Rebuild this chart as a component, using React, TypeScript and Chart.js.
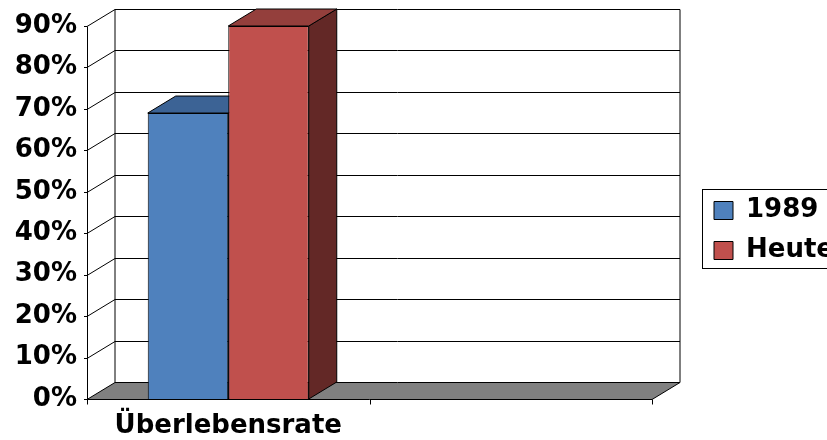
import React, { useEffect, useRef } from 'react';
import { Chart, registerables } from 'chart.js';

Chart.register(...registerables);

// ---- data ----
const categories = ['Überlebensrate', ''];
const seriesNames = ['1989', 'Heute'];
const values1989 = [0.69, null];
const valuesHeute = [0.9, null];
const yMin = 0;
const yMax = 0.9;
const yStep = 0.1;

// ---- styles ----
const frontColors = ['#4F81BD', '#C0504D'];
const topColors = ['#3C6395', '#943F3C'];
const sideColors = ['#2E4A70', '#632826'];
const floorColor = '#808080';
const lineColor = '#000000';
const DX = 28;
const DY = -17;
const FONT = '"DejaVu Sans", Arial, sans-serif';

const threeDPlugin = {
  id: 'threeD',
  beforeDatasetsDraw(chart: any) {
    const { ctx, chartArea } = chart;
    const { left, right } = chartArea;
    const y = chart.scales.y;
    const x = chart.scales.x;
    ctx.save();
    ctx.lineWidth = 1;
    ctx.strokeStyle = lineColor;

    // gridlines on back wall + left wall
    y.ticks.forEach((t: any) => {
      const yf = Math.round(y.getPixelForValue(t.value)) + 0.5;
      if (t.value === yMin) return;
      ctx.beginPath();
      ctx.moveTo(left, yf);
      ctx.lineTo(left + DX, yf + DY);
      ctx.lineTo(right + DX, yf + DY);
      ctx.stroke();
    });

    // back wall left edge and right edge
    const yTopF = Math.round(y.getPixelForValue(yMax)) + 0.5;
    const yBotF = Math.round(y.getPixelForValue(yMin)) + 0.5;
    ctx.beginPath();
    ctx.moveTo(left + DX, yTopF + DY);
    ctx.lineTo(left + DX, yBotF + DY);
    ctx.moveTo(right + DX, yTopF + DY);
    ctx.lineTo(right + DX, yBotF + DY);
    ctx.stroke();

    // floor
    ctx.beginPath();
    ctx.moveTo(left, yBotF);
    ctx.lineTo(right, yBotF);
    ctx.lineTo(right + DX, yBotF + DY);
    ctx.lineTo(left + DX, yBotF + DY);
    ctx.closePath();
    ctx.fillStyle = floorColor;
    ctx.fill();
    ctx.stroke();

    // front value axis and its tick marks
    ctx.beginPath();
    ctx.moveTo(Math.round(left) + 0.5, yTopF);
    ctx.lineTo(Math.round(left) + 0.5, yBotF);
    y.ticks.forEach((t: any) => {
      const yf = Math.round(y.getPixelForValue(t.value)) + 0.5;
      ctx.moveTo(left - 3, yf);
      ctx.lineTo(left, yf);
    });
    // category tick marks at category boundaries
    const half = (x.getPixelForValue(1) - x.getPixelForValue(0)) / 2;
    for (let i = 0; i <= categories.length; i++) {
      const px = Math.round(x.getPixelForValue(0) - half + i * 2 * half) + 0.5;
      ctx.moveTo(px, yBotF);
      ctx.lineTo(px, yBotF + 5);
    }
    ctx.stroke();

    // bar tops and sides
    chart.data.datasets.forEach((ds: any, d: number) => {
      const meta = chart.getDatasetMeta(d);
      meta.data.forEach((el: any, i: number) => {
        if (ds.data[i] == null) return;
        const l = el.x - el.width / 2;
        const r = el.x + el.width / 2;
        const yt = el.y;
        const yb = el.base;
        ctx.beginPath();
        ctx.moveTo(r, yt);
        ctx.lineTo(r + DX, yt + DY);
        ctx.lineTo(r + DX, yb + DY);
        ctx.lineTo(r, yb);
        ctx.closePath();
        ctx.fillStyle = sideColors[d];
        ctx.fill();
        ctx.stroke();
        ctx.beginPath();
        ctx.moveTo(l, yt);
        ctx.lineTo(r, yt);
        ctx.lineTo(r + DX, yt + DY);
        ctx.lineTo(l + DX, yt + DY);
        ctx.closePath();
        ctx.fillStyle = topColors[d];
        ctx.fill();
        ctx.stroke();
      });
    });
    ctx.restore();
  },
  afterDraw(chart: any) {
    const lg = chart.legend;
    if (!lg || !lg.columnSizes) return;
    const pad = lg.options.labels.padding;
    const colH = lg.columnSizes[0].height;
    const start = (lg.top + pad + lg.bottom - colH) / 2;
    const { ctx } = chart;
    ctx.save();
    ctx.strokeStyle = lineColor;
    ctx.lineWidth = 1;
    const bx = Math.round(lg.left + 2) + 0.5;
    const by = Math.round(start - 9) + 0.5;
    const bb = Math.round(start + colH - pad + 4) + 0.5;
    ctx.strokeRect(bx, by, 400, bb - by);
    ctx.restore();
  },
};

export default function App() {
  const ref = useRef<HTMLCanvasElement | null>(null);
  useEffect(() => {
    if (!ref.current) return;
    const chart = new Chart(ref.current, {
      type: 'bar',
      data: {
        labels: categories,
        datasets: [
          {
            label: seriesNames[0],
            data: values1989,
            backgroundColor: frontColors[0],
            borderColor: lineColor,
            borderWidth: 1,
            categoryPercentage: 0.57,
            barPercentage: 1,
          },
          {
            label: seriesNames[1],
            data: valuesHeute,
            backgroundColor: frontColors[1],
            borderColor: lineColor,
            borderWidth: 1,
            categoryPercentage: 0.57,
            barPercentage: 1,
          },
        ],
      },
      options: {
        animation: false,
        responsive: true,
        maintainAspectRatio: false,
        events: [],
        layout: { padding: { top: 26, bottom: 5, left: 0, right: 0 } },
        scales: {
          x: {
            grid: { display: false, drawTicks: false },
            border: { display: false },
            ticks: {
              autoSkip: false,
              maxRotation: 0,
              color: '#000',
              padding: 12,
              font: { family: FONT, size: 26, weight: 'bold' },
            },
            afterFit: (s: any) => {
              s.height = 36;
            },
          },
          y: {
            min: yMin,
            max: yMax,
            grid: { display: false, drawTicks: false },
            border: { display: false },
            ticks: {
              stepSize: yStep,
              color: '#000',
              padding: 10,
              font: { family: FONT, size: 26, weight: 'bold' },
              callback: (v: any) => Math.round(Number(v) * 100) + '%',
            },
            afterFit: (s: any) => {
              s.width = 87;
            },
          },
          y2: {
            position: 'right',
            display: true,
            grid: { display: false, drawTicks: false },
            border: { display: false },
            ticks: { display: false },
            afterFit: (s: any) => {
              s.width = 48;
            },
          },
        },
        plugins: {
          tooltip: { enabled: false },
          legend: {
            position: 'right',
            maxWidth: 127,
            labels: {
              boxWidth: 19,
              boxHeight: 18,
              padding: 14,
              color: '#000',
              font: { family: FONT, size: 26, weight: 'bold' },
            },
          },
        },
      },
      plugins: [threeDPlugin],
    } as any);
    return () => chart.destroy();
  }, []);
  return (
    <div style={{ position: 'absolute', left: 0, top: 0, width: 827, height: 440, overflow: 'hidden', background: '#fff' }}>
      <canvas ref={ref} />
    </div>
  );
}
